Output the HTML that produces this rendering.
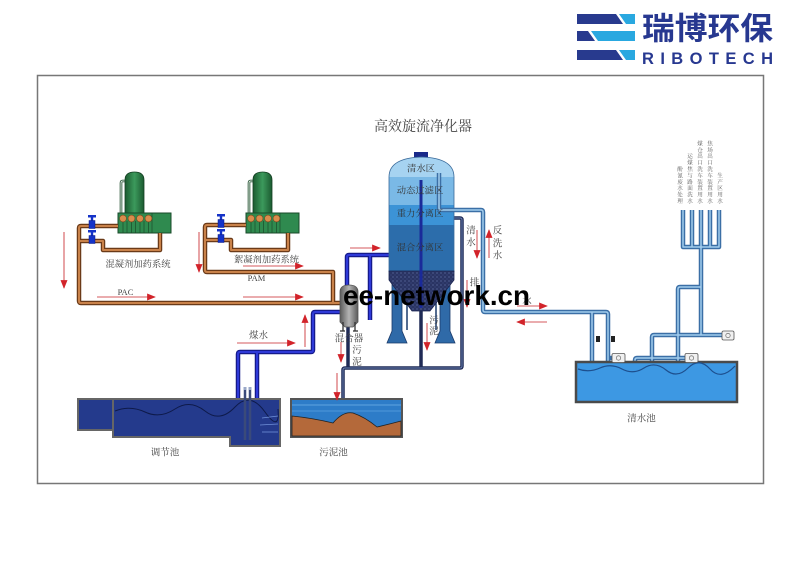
<!DOCTYPE html>
<html><head><meta charset="utf-8"><style>
html,body{margin:0;padding:0;background:#fff;}
svg{display:block;}
.cn{font-family:"Liberation Serif","Noto Serif CJK SC",serif;fill:#444;}
.bo{fill:none;stroke:#6b3a18;stroke-width:4.5;stroke-linejoin:round;}
.bi{fill:none;stroke:#c9824a;stroke-width:2;stroke-linejoin:round;}
.co{fill:none;stroke:#3b6fa6;stroke-width:4.5;stroke-linejoin:round;}
.ci{fill:none;stroke:#a2cdee;stroke-width:1.5;stroke-linejoin:round;}
.no{fill:none;stroke:#151a8c;stroke-width:4.5;stroke-linejoin:round;}
.ni{fill:none;stroke:#2f3ad8;stroke-width:2;stroke-linejoin:round;}
.do{fill:none;stroke:#1f2a55;stroke-width:3.5;stroke-linejoin:round;}
.di{fill:none;stroke:#6a80b0;stroke-width:1;stroke-linejoin:round;}
.ar{stroke:#d65a5e;stroke-width:1.1;fill:none;}
</style></head><body>
<svg width="800" height="566" viewBox="0 0 800 566" xmlns="http://www.w3.org/2000/svg">
<defs>
<marker id="ah" viewBox="0 0 10 8" refX="9" refY="4" markerWidth="10" markerHeight="7" markerUnits="userSpaceOnUse" orient="auto"><path d="M0,0 L10,4 L0,8 z" fill="#d2232a"/></marker>
<linearGradient id="gt" x1="0" x2="1" y1="0" y2="0"><stop offset="0" stop-color="#1b5a30"/><stop offset="0.5" stop-color="#3c9a5c"/><stop offset="1" stop-color="#1b5a30"/></linearGradient>
<linearGradient id="gm" x1="0" x2="1" y1="0" y2="0"><stop offset="0" stop-color="#5a5a5a"/><stop offset="0.5" stop-color="#b4b4b4"/><stop offset="1" stop-color="#5a5a5a"/></linearGradient>
<pattern id="sed" width="4" height="4" patternUnits="userSpaceOnUse"><rect width="4" height="4" fill="#2a3463"/><circle cx="1" cy="1" r="0.6" fill="#6a7ab0"/><circle cx="3" cy="3" r="0.5" fill="#4a5a90"/></pattern>
<clipPath id="tc"><path d="M389,272 V177 Q389,158 421.5,157 Q454,158 454,177 V272 Z"/></clipPath>
<g id="du">
  <path d="M125,181 H122.5 Q121,181 121,183 V213" fill="none" stroke="#1a4a2a" stroke-width="2.6"/>
  <path d="M125,181 H122.5 Q121,181 121,183 V213" fill="none" stroke="#e8f0e8" stroke-width="1"/>
  <path d="M125,213 V180 Q125,172 134.5,172 Q144,172 144,180 V213 Z" fill="url(#gt)" stroke="#143f22" stroke-width="0.8"/>
  <rect x="118" y="213" width="53" height="20" fill="#2f8a4f" stroke="#1a4a2a" stroke-width="1"/>
  <g stroke="#1a4a2a" stroke-width="0.7">
    <line x1="123" y1="221" x2="123" y2="233"/><line x1="127" y1="221" x2="127" y2="233"/><line x1="131.5" y1="221" x2="131.5" y2="233"/><line x1="135.5" y1="221" x2="135.5" y2="233"/><line x1="140" y1="221" x2="140" y2="233"/><line x1="144" y1="221" x2="144" y2="233"/><line x1="148.5" y1="221" x2="148.5" y2="233"/><line x1="152" y1="213" x2="152" y2="233"/>
  </g>
  <g fill="#d98c4c" stroke="#7a4a20" stroke-width="0.6">
    <circle cx="123" cy="218.5" r="3.4"/><circle cx="131.5" cy="218.5" r="3.4"/><circle cx="140" cy="218.5" r="3.4"/><circle cx="148.5" cy="218.5" r="3.4"/>
  </g>
</g>
<g id="vv">
  <rect x="88" y="0" width="8" height="2.5" fill="#1533c8"/>
  <rect x="90.8" y="2" width="2.4" height="4" fill="#1533c8"/>
  <rect x="89" y="5.5" width="6" height="8" fill="#1533c8" stroke="#0a1a80" stroke-width="0.5"/>
</g>
</defs>

<!-- Logo -->
<polygon points="577,14 616,14 623,24 577,24" fill="#283a8e"/>
<polygon points="619,14 635,14 635,24 626,24" fill="#29a8e0"/>
<polygon points="577,31 588,31 595,41 577,41" fill="#283a8e"/>
<polygon points="591,31 635,31 635,41 598,41" fill="#29a8e0"/>
<polygon points="577,50 616,50 623,60 577,60" fill="#283a8e"/>
<polygon points="619,50 635,50 635,60 626,60" fill="#29a8e0"/>
<text x="642" y="39.5" font-family="'Liberation Sans','Noto Sans CJK SC',sans-serif" font-weight="bold" font-size="31" fill="#273890" textLength="131" lengthAdjust="spacingAndGlyphs">瑞博环保</text>
<text x="642" y="64" font-family="'Liberation Sans',sans-serif" font-weight="bold" font-size="16.5" fill="#273890" textLength="131" lengthAdjust="spacing">RIBOTECH</text>

<!-- Frame -->
<rect x="37.5" y="75.5" width="726" height="408" fill="none" stroke="#777" stroke-width="1.5"/>

<!-- Title -->
<text x="423" y="131" class="cn" font-size="14" text-anchor="middle" fill="#333">高效旋流净化器</text>

<!-- Dosing units -->
<use href="#du"/>
<use href="#du" x="128"/>

<!-- Brown pipes -->
<path class="bo" d="M118,226 H81 Q79,226 79,228 V301 Q79,303 81,303 H340"/>
<path class="bo" d="M79,241 H103 V250 H160 V233"/>
<path class="bo" d="M246,225 H207 Q205,225 205,227 V270 Q205,272 207,272 H333 V303"/>
<path class="bo" d="M205,240 H231 V250 H288 V233"/>
<path class="bi" d="M118,226 H81 Q79,226 79,228 V301 Q79,303 81,303 H340"/>
<path class="bi" d="M79,241 H103 V250 H160 V233"/>
<path class="bi" d="M246,225 H207 Q205,225 205,227 V270 Q205,272 207,272 H333 V303"/>
<path class="bi" d="M205,240 H231 V250 H288 V233"/>

<!-- valves -->
<use href="#vv" y="215"/>
<use href="#vv" y="230"/>
<use href="#vv" x="129" y="214"/>
<use href="#vv" x="129" y="229"/>

<!-- Dosing labels -->
<text x="138" y="267" class="cn" font-size="9.3" text-anchor="middle">混凝剂加药系统</text>
<text x="266.5" y="262.5" class="cn" font-size="9.3" text-anchor="middle">絮凝剂加药系统</text>
<text x="125.5" y="295" class="cn" font-size="8.5" text-anchor="middle">PAC</text>
<text x="256.5" y="281" class="cn" font-size="8.5" text-anchor="middle">PAM</text>

<!-- Navy pipes -->
<path class="no" d="M238,445 V354 Q238,352 240,352 H311 Q313,352 313,350 V314 Q313,312 315,312 H340"/>
<path class="no" d="M257,445 V352"/>
<path class="no" d="M347,287 V257 Q347,255 349,255 H390"/>
<path class="no" d="M370,255 V320"/>
<path class="ni" d="M238,445 V354 Q238,352 240,352 H311 Q313,352 313,350 V314 Q313,312 315,312 H340"/>
<path class="ni" d="M257,445 V352"/>
<path class="ni" d="M347,287 V257 Q347,255 349,255 H390"/>
<path class="ni" d="M370,255 V320"/>

<!-- Dark navy drain pipes -->
<path class="do" d="M454,218 H460 Q462,218 462,220 V366 Q462,368 460,368 H345 Q343,368 343,370 V400"/>
<path class="do" d="M421,305 V368"/>
<path class="do" d="M348,326 V368"/>
<path class="di" d="M454,218 H460 Q462,218 462,220 V366 Q462,368 460,368 H345 Q343,368 343,370 V400"/>

<!-- Tank legs -->
<g fill="#2f6aa8" stroke="#1a3a6a" stroke-width="0.8">
  <polygon points="392,273 402,273 402,331 407,343 387,343 392,331"/>
  <polygon points="440,273 450,273 450,331 455,343 435,343 440,331"/>
</g>
<line x1="407" y1="282" x2="407" y2="330" stroke="#1a3a6a" stroke-width="1.5"/>
<line x1="436" y1="282" x2="436" y2="330" stroke="#1a3a6a" stroke-width="1.5"/>

<!-- Tank -->
<rect x="414" y="152" width="14" height="6" fill="#1a2a8a"/>
<g clip-path="url(#tc)">
  <rect x="385" y="150" width="75" height="28" fill="#a6d3f1"/>
  <rect x="385" y="177" width="75" height="28" fill="#7ab9e6"/>
  <rect x="385" y="205" width="75" height="20" fill="#3c93d6"/>
  <rect x="385" y="225" width="75" height="48" fill="#2c6dab"/>
</g>
<path d="M389,272 V177 Q389,158 421.5,157 Q454,158 454,177 V272" fill="none" stroke="#3a6a9a" stroke-width="0.8"/>
<polygon points="389,271 454,271 454,280 430,311 412,311 389,280" fill="url(#sed)" stroke="#1a2450" stroke-width="0.8"/>
<line x1="421" y1="180" x2="421" y2="308" stroke="#1a2a9a" stroke-width="3"/>

<!-- Clean water pipes -->
<path class="co" d="M439,173 V208 Q439,210 441,210 H481 Q483,210 483,212 V310 Q483,312 485,312 H606 Q608,312 608,314 V362"/>
<path class="co" d="M592,312 V362"/>
<path class="co" d="M683,210 V247 H719 V210 M692,210 V247 M701,210 V335 M710,210 V247"/>
<path class="co" d="M652,362 V337 Q652,335 654,335 H722"/>
<path class="co" d="M678,362 V289 Q678,287 680,287 H701"/>
<path class="co" d="M635,362 V360 Q635,358 637,358 H685"/>
<path class="co" d="M608,358 H612"/>
<path class="ci" d="M439,173 V208 Q439,210 441,210 H481 Q483,210 483,212 V310 Q483,312 485,312 H606 Q608,312 608,314 V362"/>
<path class="ci" d="M592,312 V362"/>
<path class="ci" d="M683,210 V247 H719 V210 M692,210 V247 M701,210 V335 M710,210 V247"/>
<path class="ci" d="M652,362 V337 Q652,335 654,335 H722"/>
<path class="ci" d="M678,362 V289 Q678,287 680,287 H701"/>
<path class="ci" d="M635,362 V360 Q635,358 637,358 H685"/>

<!-- Tank zone labels -->
<g class="cn" font-size="9.3" text-anchor="middle" style="fill:#333">
<text x="421" y="171.5">清水区</text>
<text x="420" y="193.5">动态过滤区</text>
<text x="420" y="216.5">重力分离区</text>
<text x="420" y="250.5">混合分离区</text>
</g>

<!-- Mixer -->
<path d="M340,322 V292 Q340,285 349,285 Q358,285 358,292 V322 L353,327 H345 Z" fill="url(#gm)" stroke="#555" stroke-width="0.8"/>
<g stroke="#333" stroke-width="1.3">
<line x1="343" y1="322" x2="343" y2="331"/><line x1="355" y1="322" x2="355" y2="331"/>
<line x1="340" y1="331" x2="345" y2="331"/><line x1="353" y1="331" x2="358" y2="331"/>
</g>

<!-- Pools -->
<polygon points="113,399 280,399 280,446 230,446 230,437 113,437" fill="#243a8c" stroke="#666" stroke-width="2"/>
<rect x="78" y="399" width="35" height="31" fill="#243a8c" stroke="#666" stroke-width="2"/>
<path d="M115,411 Q130,405 145,412 T175,409 T205,411 T235,407 T265,412 T278,409" fill="none" stroke="#0e1a4a" stroke-width="1"/>
<g stroke="#7090d8" stroke-width="0.8"><line x1="262" y1="418" x2="278" y2="416"/><line x1="260" y1="425" x2="278" y2="424"/><line x1="262" y1="432" x2="278" y2="432"/></g>
<g stroke="#3a4a7a" stroke-width="2.5"><line x1="245" y1="390" x2="245" y2="440"/><line x1="250" y1="390" x2="250" y2="440"/></g>
<g fill="#9aa8c8"><rect x="243.5" y="387" width="3" height="3"/><rect x="248.5" y="387" width="3" height="3"/></g>

<rect x="291" y="399" width="111" height="38" fill="#2d7cc8" stroke="#555" stroke-width="2"/>
<line x1="292" y1="405" x2="401" y2="405" stroke="#6fb0e8" stroke-width="0.8"/>
<line x1="292" y1="411" x2="401" y2="411" stroke="#5aa0e0" stroke-width="0.8"/>
<path d="M292,416 Q312,418 333,423 Q343,411 353,413 Q365,417 377,427 Q390,424 401,421 V436 H292 Z" fill="#b4693a" stroke="#222" stroke-width="0.8"/>

<rect x="576" y="362" width="161" height="40" fill="#3d98e3" stroke="#4a4a4a" stroke-width="2.5"/>
<path d="M578,369 Q589,373 600,368 T622,369 T644,368 T666,370 T688,368 T710,369 T735,366" fill="none" stroke="#1d4f8e" stroke-width="1.2"/>

<!-- pumps & valves -->
<g fill="#f0f0f0" stroke="#555" stroke-width="0.8">
<rect x="612" y="353.5" width="13" height="9" rx="1.5"/><rect x="685" y="353.5" width="13" height="9" rx="1.5"/><rect x="722" y="331" width="12" height="9" rx="1.5"/>
</g>
<g fill="none" stroke="#555" stroke-width="0.6">
<circle cx="618.5" cy="358" r="2.2"/><circle cx="691.5" cy="358" r="2.2"/><circle cx="728" cy="335.5" r="2.2"/>
</g>
<g fill="#222"><rect x="596" y="336" width="4" height="6"/><rect x="611" y="336" width="4" height="6"/></g>

<!-- Right vertical labels -->
<g class="cn" font-size="5.6" text-anchor="middle" style="fill:#555">
<text x="680"><tspan x="680" y="171">酚</tspan><tspan x="680" y="177.4">氰</tspan><tspan x="680" y="183.8">废</tspan><tspan x="680" y="190.2">水</tspan><tspan x="680" y="196.6">处</tspan><tspan x="680" y="203">理</tspan></text>
<text x="690"><tspan x="690" y="158.2">运</tspan><tspan x="690" y="164.6">煤</tspan><tspan x="690" y="171">焦</tspan><tspan x="690" y="177.4">与</tspan><tspan x="690" y="183.8">路</tspan><tspan x="690" y="190.2">面</tspan><tspan x="690" y="196.6">洗</tspan><tspan x="690" y="203">水</tspan></text>
<text x="700"><tspan x="700" y="145.4">煤</tspan><tspan x="700" y="151.8">仓</tspan><tspan x="700" y="158.2">出</tspan><tspan x="700" y="164.6">口</tspan><tspan x="700" y="171">洗</tspan><tspan x="700" y="177.4">车</tspan><tspan x="700" y="183.8">装</tspan><tspan x="700" y="190.2">置</tspan><tspan x="700" y="196.6">用</tspan><tspan x="700" y="203">水</tspan></text>
<text x="710"><tspan x="710" y="145.4">焦</tspan><tspan x="710" y="151.8">场</tspan><tspan x="710" y="158.2">出</tspan><tspan x="710" y="164.6">口</tspan><tspan x="710" y="171">洗</tspan><tspan x="710" y="177.4">车</tspan><tspan x="710" y="183.8">装</tspan><tspan x="710" y="190.2">置</tspan><tspan x="710" y="196.6">用</tspan><tspan x="710" y="203">水</tspan></text>
<text x="720"><tspan x="720" y="177.4">生</tspan><tspan x="720" y="183.8">产</tspan><tspan x="720" y="190.2">区</tspan><tspan x="720" y="196.6">用</tspan><tspan x="720" y="203">水</tspan></text>
</g>

<!-- Labels -->
<g class="cn" font-size="9.5" text-anchor="middle">
<text x="349" y="341.5">混合器</text>
<text x="357" y="353">污</text><text x="357" y="365">泥</text>
<text x="434" y="323.5">污</text><text x="434" y="334.5">泥</text>
<text x="471" y="233.5">清</text><text x="471" y="245.5">水</text>
<text x="497.5" y="233.5">反</text><text x="497.5" y="246.5">洗</text><text x="497.5" y="258.5">水</text>
<text x="474.5" y="285.5">排</text>
<text x="527" y="304">水</text>
<text x="258.5" y="338.5">煤水</text>
<text x="165" y="455.5">调节池</text>
<text x="333.5" y="455.5">污泥池</text>
<text x="641.5" y="421.5">清水池</text>
</g>

<!-- Red arrows -->
<g class="ar" marker-end="url(#ah)">
<line x1="64" y1="232" x2="64" y2="288"/>
<line x1="199" y1="232" x2="199" y2="272"/>
<line x1="97" y1="297" x2="155" y2="297"/>
<line x1="243" y1="297" x2="303" y2="297"/>
<line x1="243" y1="266" x2="303" y2="266"/>
<line x1="350" y1="248" x2="380" y2="248"/>
<line x1="341" y1="342" x2="341" y2="362"/>
<line x1="427" y1="323" x2="427" y2="350"/>
<line x1="477" y1="230" x2="477" y2="258"/>
<line x1="489" y1="258" x2="489" y2="230"/>
<line x1="467" y1="280" x2="467" y2="307"/>
<line x1="517" y1="306" x2="547" y2="306"/>
<line x1="547" y1="322" x2="517" y2="322"/>
<line x1="237" y1="343" x2="295" y2="343"/>
<line x1="305" y1="347" x2="305" y2="315"/>
<line x1="337" y1="373" x2="337" y2="400"/>
</g>

<!-- Watermark -->
<text x="343" y="305" font-family="'Liberation Sans',sans-serif" font-weight="bold" font-size="28" fill="#000" textLength="187" lengthAdjust="spacingAndGlyphs">ee-network.cn</text>
</svg>
</body></html>
